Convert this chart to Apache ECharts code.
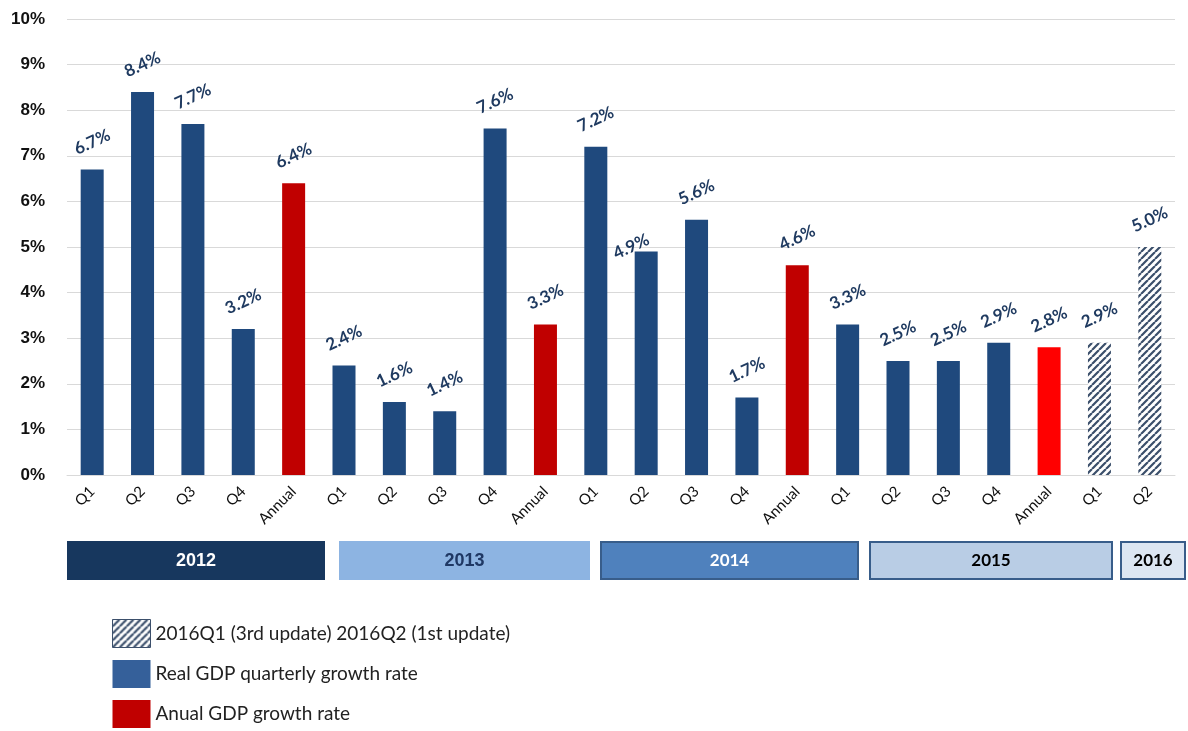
<!DOCTYPE html>
<html>
<head>
<meta charset="utf-8">
<script src="https://cdn.jsdelivr.net/npm/echarts@6/dist/echarts.min.js"></script>
<style>
  html, body { margin: 0; padding: 0; background: #fff; }
  #chart { width: 1188px; height: 731px; }
</style>
</head>
<body>
<div id="chart"></div>
<script>
const categories = ['Q1', 'Q2', 'Q3', 'Q4', 'Annual', 'Q1', 'Q2', 'Q3', 'Q4', 'Annual',
  'Q1', 'Q2', 'Q3', 'Q4', 'Annual', 'Q1', 'Q2', 'Q3', 'Q4', 'Annual', 'Q1', 'Q2']
const quarterlyGrowth = [6.7, 8.4, 7.7, 3.2, null, 2.4, 1.6, 1.4, 7.6, null,
  7.2, 4.9, 5.6, 1.7, null, 3.3, 2.5, 2.5, 2.9, null, null, null]
const annualGrowth = [null, null, null, null, 6.4, null, null, null, null, 3.3,
  null, null, null, null, 4.6, null, null, null, null, 2.8, null, null]
const updateGrowth = [null, null, null, null, null, null, null, null, null, null,
  null, null, null, null, null, null, null, null, null, null, 2.9, 5.0]
const yearNames = ['2012', '2013', '2014', '2015', '2016']

const seriesNames = {
  update: '2016Q1 (3rd update) 2016Q2 (1st update)',
  quarterly: 'Real GDP quarterly growth rate',
  annual: 'Anual GDP growth rate'
}

// hatch tile for the preliminary bars
function makeHatch() {
  const size = 7
  const c = document.createElement('canvas')
  c.width = size
  c.height = size
  const ctx = c.getContext('2d')
  ctx.fillStyle = '#ffffff'
  ctx.fillRect(0, 0, size, size)
  ctx.strokeStyle = '#3b4f6b'
  ctx.lineWidth = 2.2
  ctx.beginPath()
  for (let k = -1; k <= 1; k++) {
    ctx.moveTo(k * size, size)
    ctx.lineTo(k * size + size, 0)
  }
  ctx.stroke()
  return c
}
const hatch = makeHatch()

const valueLabel = {
  show: true,
  position: 'top',
  distance: 18,
  offset: [4, 0],
  rotate: 25,
  color: '#1f3a60',
  fontFamily: 'Lato',
  fontWeight: 'bold',
  fontSize: 17,
  formatter: p => p.value.toFixed(1) + '%'
}

function toData(values, special) {
  return values.map((v, i) => {
    if (v === null) return null
    const item = { value: v }
    if (special && special[i]) Object.assign(item, special[i])
    return item
  })
}

const chart = echarts.init(document.getElementById('chart'))

const yearBoxes = [
  { x: 67, w: 256, fill: '#17375e', stroke: '#17375e', text: '#ffffff', font: 'Liberation Sans', size: 18 },
  { x: 339, w: 249, fill: '#8db4e2', stroke: '#8db4e2', text: '#1f3864', font: 'Liberation Sans', size: 18 },
  { x: 600, w: 257, fill: '#4f81bd', stroke: '#385d8a', text: '#ffffff', font: 'Lato', size: 17 },
  { x: 869, w: 242, fill: '#b9cde5', stroke: '#385d8a', text: '#000000', font: 'Lato', size: 17 },
  { x: 1120, w: 64, fill: '#dce6f2', stroke: '#385d8a', text: '#000000', font: 'Lato', size: 17 }
]

const graphics = yearBoxes.map((b, i) => ({
  type: 'group',
  left: b.x,
  top: 541,
  children: [
    {
      type: 'rect',
      shape: { x: 0, y: 0, width: b.w, height: 37 },
      style: { fill: b.fill, stroke: b.stroke, lineWidth: 2 }
    },
    {
      type: 'text',
      x: b.w / 2,
      y: 19,
      style: {
        text: yearNames[i],
        fill: b.text,
        font: 'bold ' + b.size + 'px "' + b.font + '"',
        textAlign: 'center',
        textVerticalAlign: 'middle'
      }
    }
  ]
}))

chart.setOption({
  animation: false,
  backgroundColor: '#ffffff',
  grid: { left: 67, right: 13, top: 19, bottom: 256, containLabel: false },
  legend: {
    orient: 'vertical',
    left: 112,
    top: 619,
    padding: 0,
    height: 120,
    icon: 'rect',
    itemWidth: 38,
    itemHeight: 28,
    itemGap: 12,
    selectedMode: false,
    textStyle: { fontFamily: 'Lato', fontSize: 19, color: '#222', padding: [2, 0, 0, 0] },
    data: [
      { name: seriesNames.update, itemStyle: { borderColor: '#3b4f6b', borderWidth: 1 } },
      { name: seriesNames.quarterly, itemStyle: { color: '#35609a' } },
      { name: seriesNames.annual, itemStyle: { color: '#c00000' } }
    ]
  },
  xAxis: {
    type: 'category',
    data: categories,
    axisLine: { lineStyle: { color: '#d9d9d9' } },
    axisTick: { show: false },
    axisLabel: {
      interval: 0,
      rotate: 45,
      margin: 14,
      color: '#111',
      fontFamily: 'Lato',
      fontSize: 15
    }
  },
  yAxis: {
    type: 'value',
    min: 0,
    max: 10,
    interval: 1,
    axisLine: { show: false },
    axisTick: { show: false },
    splitLine: { lineStyle: { color: '#d9d9d9', width: 1 } },
    axisLabel: {
      formatter: '{value}%',
      margin: 22,
      color: '#111',
      fontFamily: 'Liberation Sans',
      fontWeight: 'bold',
      fontSize: 17
    }
  },
  series: [
    {
      name: seriesNames.quarterly,
      type: 'bar',
      stack: 'gdp',
      barWidth: 23,
      itemStyle: { color: '#1f497d' },
      label: valueLabel,
      data: toData(quarterlyGrowth, { 11: { label: { offset: [-19, 14] } } })
    },
    {
      name: seriesNames.annual,
      type: 'bar',
      stack: 'gdp',
      barWidth: 23,
      itemStyle: { color: '#c00000' },
      label: valueLabel,
      data: toData(annualGrowth, { 19: { itemStyle: { color: '#ff0000' } } })
    },
    {
      name: seriesNames.update,
      type: 'bar',
      stack: 'gdp',
      barWidth: 23,
      itemStyle: { color: { image: hatch, repeat: 'repeat' } },
      label: valueLabel,
      data: toData(updateGrowth)
    }
  ],
  graphic: graphics
})
</script>
</body>
</html>
